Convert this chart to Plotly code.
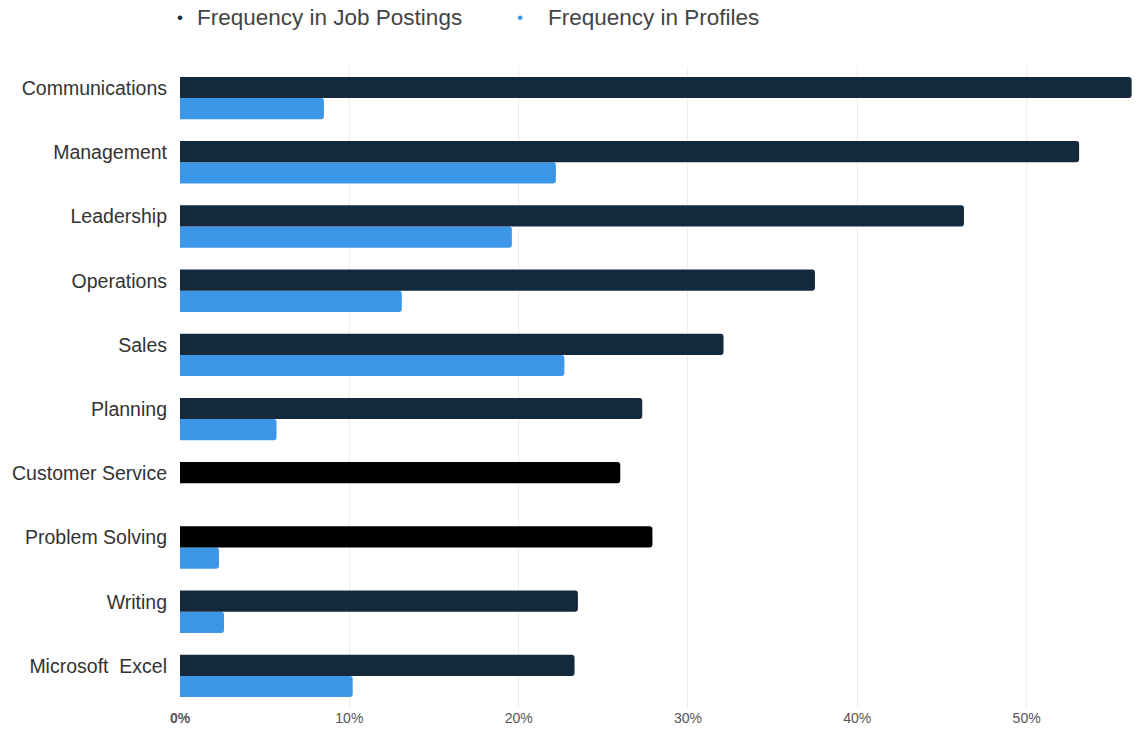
import plotly.graph_objects as go

categories = ["Communications", "Management", "Leadership", "Operations", "Sales",
              "Planning", "Customer Service", "Problem Solving", "Writing", "Microsoft  Excel"]
job_postings = [56.2, 53.1, 46.3, 37.5, 32.1, 27.3, 26.0, 27.9, 23.5, 23.3]
profiles = [8.5, 22.2, 19.6, 13.1, 22.7, 5.7, 0, 2.3, 2.6, 10.2]
series_names = ["Frequency in Job Postings", "Frequency in Profiles"]
tick_vals = [0, 10, 20, 30, 40, 50]
tick_text = ["<b>0%</b>", "10%", "20%", "30%", "40%", "50%"]

DARK = "#15293d"
BLUE = "#3d97e8"
dark_colors = [DARK] * 6 + ["#000000", "#000000"] + [DARK] * 2

W, H = 1144, 736
ML, MR, MT, MB = 180, 9, 66, 28

fig = go.Figure()
# in horizontal grouped bars the first trace sits at the bottom of each group
fig.add_trace(go.Bar(y=categories, x=profiles, orientation="h", name=series_names[1],
                     marker=dict(color=BLUE, line=dict(width=0)), showlegend=False))
fig.add_trace(go.Bar(y=categories, x=job_postings, orientation="h", name=series_names[0],
                     marker=dict(color=dark_colors, line=dict(width=0)), showlegend=False))


def px_x(x):
    return (x - ML) / (W - ML - MR)


def px_y(y):
    return 1 + (MT - y) / (H - MT - MB)


# legend drawn as bullets + text at the top
legend_items = [(180, 195, DARK, series_names[0]), (520, 546, BLUE, series_names[1])]
for bx, tx, col, name in legend_items:
    fig.add_annotation(x=px_x(bx), y=px_y(18), xref="paper", yref="paper", text="•",
                       showarrow=False, xanchor="center", yanchor="middle",
                       font=dict(size=17, color=col))
    fig.add_annotation(x=px_x(tx), y=px_y(17), xref="paper", yref="paper", text=name,
                       showarrow=False, xanchor="left", yanchor="middle",
                       font=dict(size=22.5, color="#444444"))

fig.update_layout(
    width=W, height=H,
    margin=dict(l=ML, r=MR, t=MT, b=MB, autoexpand=False),
    paper_bgcolor="white", plot_bgcolor="white",
    barmode="group", bargap=0.34, bargroupgap=0, barcornerradius=3,
    font=dict(family="Arial", color="#333333"),
    showlegend=False,
    xaxis=dict(range=[0, 56.4], tickvals=tick_vals, ticktext=tick_text, showgrid=True,
               gridcolor="#ededed", gridwidth=1, zeroline=False, showline=False,
               tickfont=dict(size=14, color="#555555"), fixedrange=True, automargin=False),
    yaxis=dict(categoryorder="array", categoryarray=categories[::-1], showgrid=False,
               tickfont=dict(size=19.5, color="#333333"), ticklabelshift=-10, ticklabelstandoff=12,
               fixedrange=True, automargin=False),
)
fig.write_html("out.html", config={"displayModeBar": False},
               post_script="document.body.style.margin='0';")
